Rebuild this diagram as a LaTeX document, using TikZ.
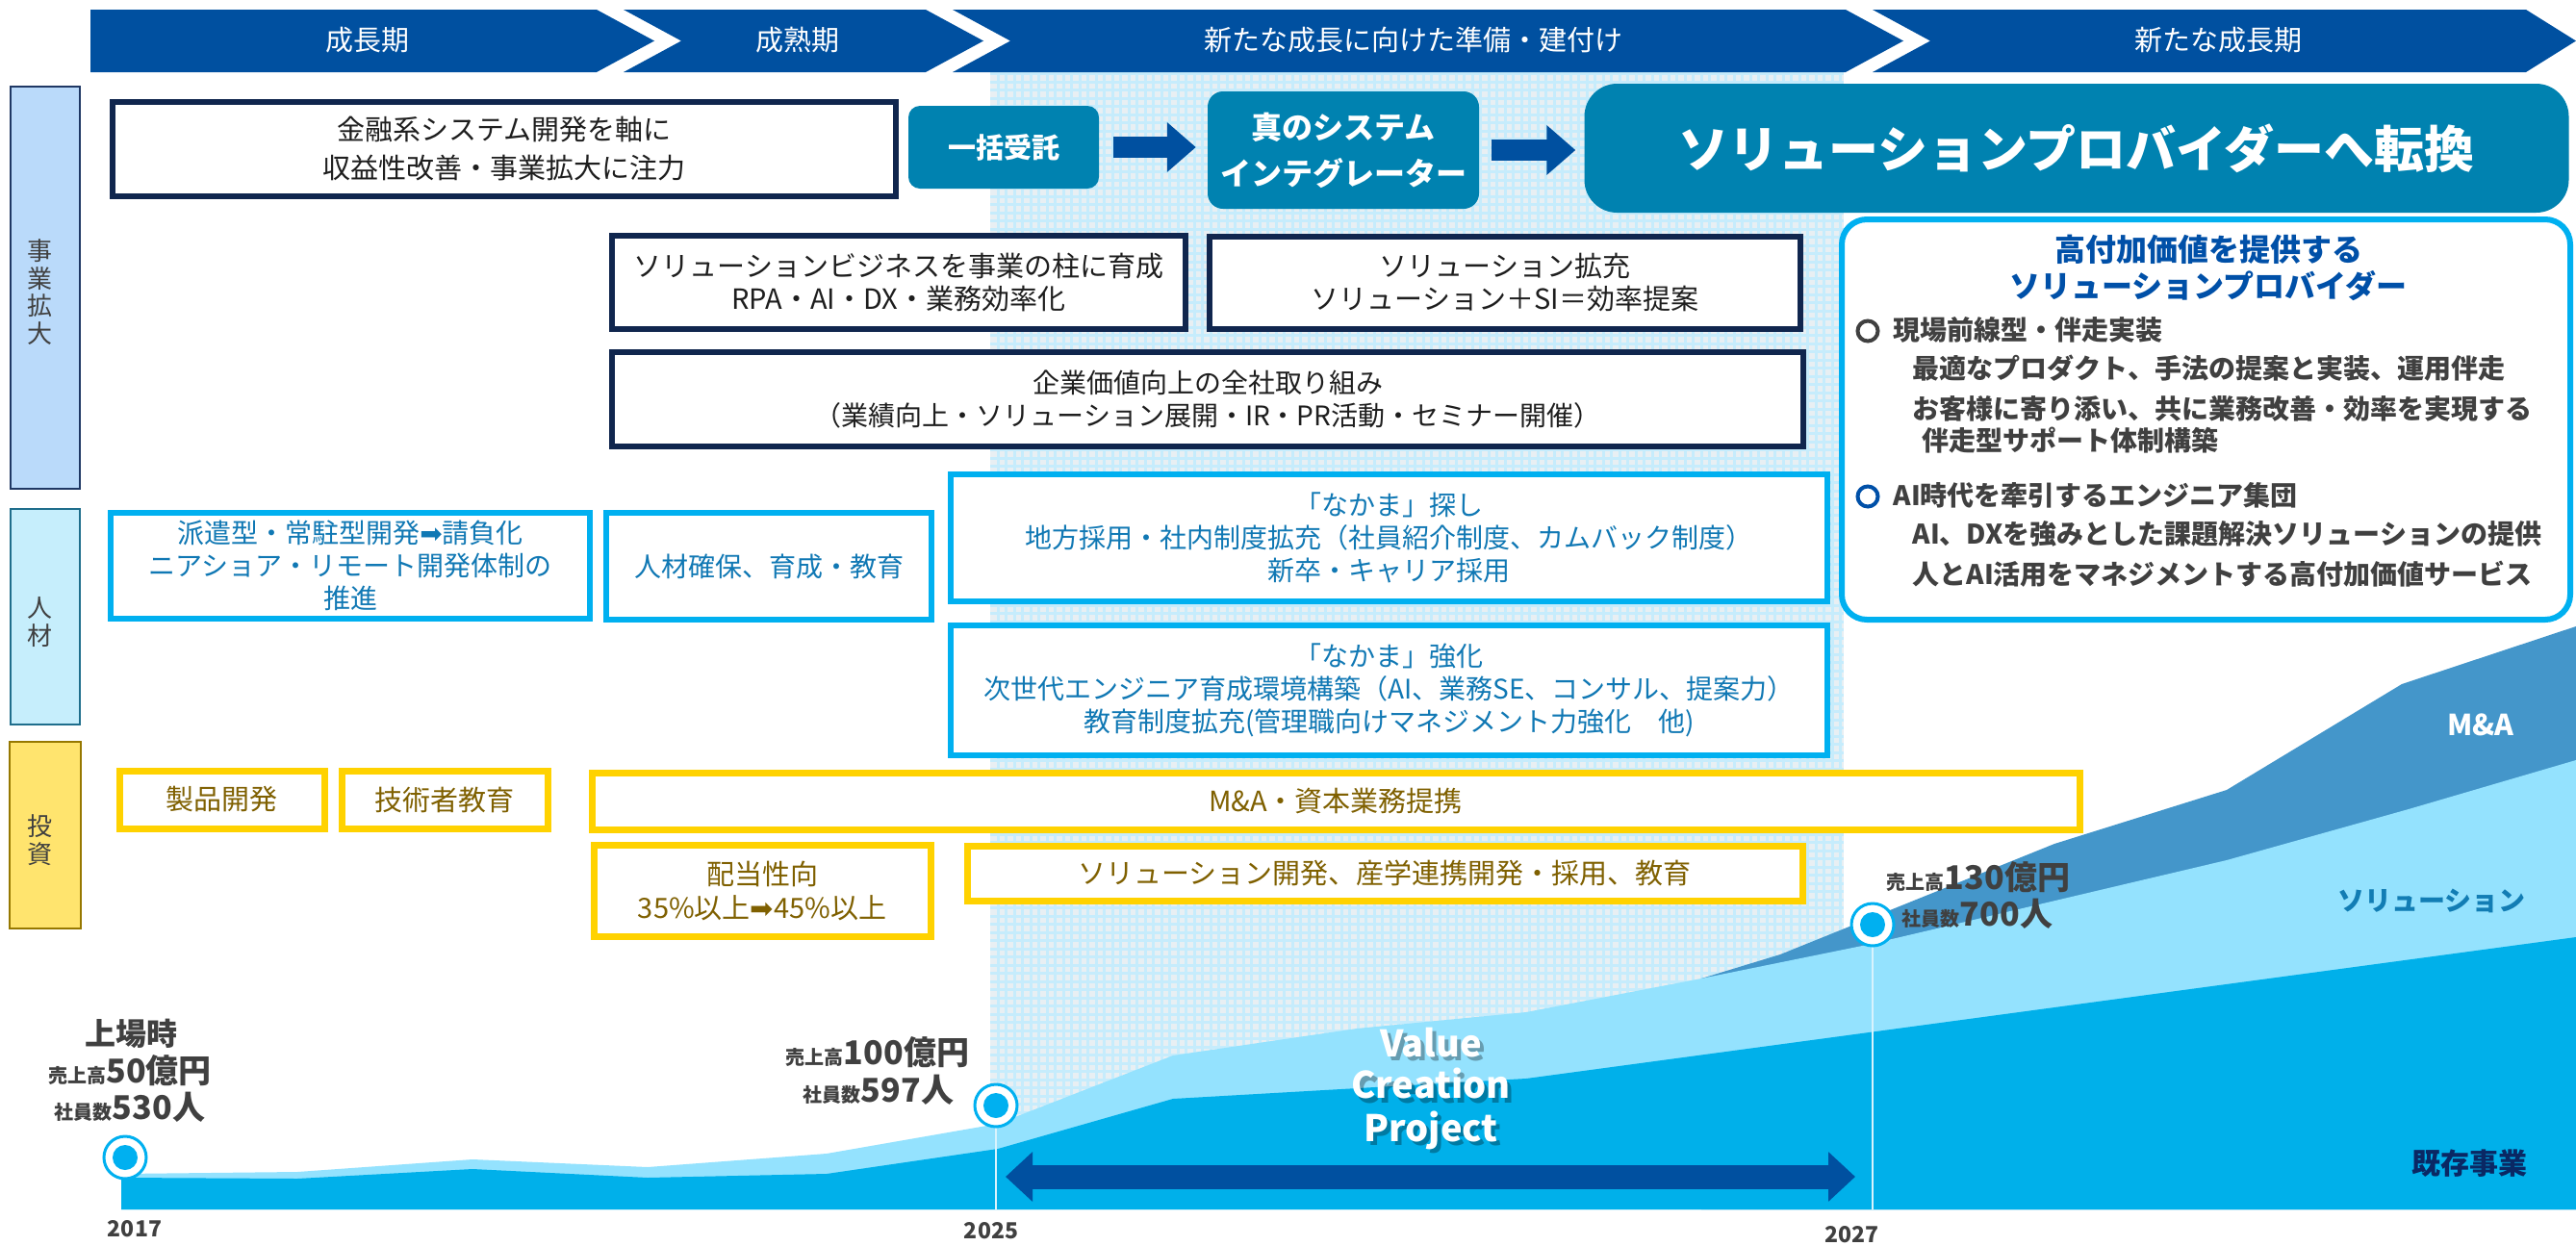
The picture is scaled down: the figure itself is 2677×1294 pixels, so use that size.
\documentclass[tikz,border=0pt]{standalone}
\usepackage{fontspec}
\setmainfont{Noto Sans CJK JP}
\newfontfamily\dejavu{DejaVu Sans}
\usetikzlibrary{arrows.meta}
\newcommand\fs[2]{\fontsize{#1}{#2}\selectfont}
\newcommand\rarr{{\dejavu\char"27A1}}
\definecolor{banner}{RGB}{0,80,160}
\definecolor{navyb}{RGB}{16,38,78}
\definecolor{tealb}{RGB}{0,130,176}
\definecolor{cyanb}{RGB}{0,176,240}
\definecolor{yelb}{RGB}{255,210,0}
\definecolor{olivet}{RGB}{127,96,0}
\definecolor{cyant}{RGB}{16,120,180}
\definecolor{txtdark}{RGB}{30,30,30}
\definecolor{txtgray}{RGB}{64,64,64}
\definecolor{titleblue}{RGB}{0,80,168}
\definecolor{cAfill}{RGB}{186,218,250}
\definecolor{cAdraw}{RGB}{31,56,100}
\definecolor{cBfill}{RGB}{198,238,252}
\definecolor{cBdraw}{RGB}{31,110,140}
\definecolor{cCfill}{RGB}{255,228,110}
\definecolor{cCdraw}{RGB}{150,120,0}
\definecolor{basecol}{RGB}{0,176,234}
\definecolor{lightcol}{RGB}{148,226,254}
\definecolor{macol}{RGB}{68,150,202}
\definecolor{gridbg}{RGB}{232,239,243}
\definecolor{gridln}{RGB}{198,236,252}
\definecolor{soltxt}{RGB}{18,125,180}
\definecolor{kizon}{RGB}{10,40,100}
\tikzset{
  navybox/.style={draw=navyb, line width=6pt, fill=white, inner sep=0pt, align=center, text=txtdark, font={\fs{29}{34}}},
  tealbox/.style={fill=tealb, inner sep=0pt, align=center, text=white},
  cyanbox/.style={draw=cyanb, line width=6pt, fill=white, inner sep=0pt, align=center, text=cyant, font={\fs{28}{34}}},
  yelbox/.style={draw=yelb, line width=7pt, fill=white, inner sep=0pt, align=center, text=olivet, font={\fs{29}{35}}},
  colbox/.style={line width=2pt, inner sep=0pt},
  coltext/.style={align=center, text=txtgray, font={\fs{26}{28.5}}},
  bantext/.style={text=white, font={\fs{29}{29}}},
  blockarrow/.style={draw=banner, line width=22pt, -{Triangle[length=30pt,width=50pt]}},
  dblarrow/.style={draw=banner, line width=25pt, {Triangle[length=28pt,width=50pt]}-{Triangle[length=28pt,width=50pt]}},
  marker/.style={circle, draw=cyanb, fill=white, line width=3pt, minimum size=44pt, inner sep=0pt,
    path picture={\fill[cyanb] (path picture bounding box.center) circle[radius=13pt];}},
  vline/.style={draw=white!85!cyanb, line width=2pt},
  kpitext/.style={text=txtgray, font={\bfseries}},
  yeartext/.style={text=txtgray, font={\fs{23}{23}\bfseries}},
  itemhead/.style={anchor=west, text=txtgray, font={\fs{28}{28}\bfseries}},
  itembody/.style={anchor=west, text=txtgray, font={\fs{28}{28}\bfseries}},
  bullet/.style={circle, line width=4pt, minimum size=21pt, inner sep=0pt},
  vcp/.style={align=center, font={\fs{38}{44}\bfseries}}
}
\newcommand\kpi[3]{{\fs{20}{20}#1}{\fs{34}{34}#2}}
\begin{document}
\begin{tikzpicture}[x=1pt,y=-1pt]
\useasboundingbox (0,0) rectangle (2677,1294);
\fill[white] (0,0) rectangle (2677,1294);
% grid background
\fill[gridbg] (1029,75) rectangle (1916,1257);
\draw[gridln, line width=3pt, step=8.5pt] (1029,75) grid (1916,1257);
% chart layers
\fill[macol] (1768,1017) -- (1850,992) -- (2135,877) -- (2314,821) -- (2496,711) -- (2677,651) -- (2677,1257) -- (1768,1257) -- cycle;
\fill[lightcol] (126,1257) -- (126,1220) -- (309,1218) -- (491,1205) -- (673,1213) -- (859,1199) -- (1037,1168) -- (1219,1097) -- (1410,1069) -- (1586,1052) -- (1768,1017) -- (1945,981) -- (2314,894) -- (2503,841) -- (2677,790) -- (2677,1257) -- cycle;
\fill[basecol] (126,1257) -- (126,1224) -- (309,1225) -- (491,1215) -- (673,1224) -- (859,1220) -- (1037,1194) -- (1219,1142) -- (1586,1121) -- (2677,974) -- (2677,1257) -- cycle;
% vertical lines and markers
\coordinate (c25) at (1035,1149);
\coordinate (b25) at (1035,1257);
\coordinate (c27) at (1946,961);
\coordinate (b27) at (1946,1257);
\draw[vline] (c25) -- (b25);
\draw[vline] (c27) -- (b27);
\coordinate (vl) at (1045,1223);
\coordinate (vr) at (1928,1223);
\draw[dblarrow] (vl) -- (vr);
\node[marker] (m17) at (130,1203) {};
\node[marker] (m25) at (c25) {};
\node[marker] (m27) at (c27) {};
% chart texts
\node[vcp, text=black, opacity=0.3] (vcpshadow) at (1491,1135) {Value\\Creation\\Project};
\node[vcp, text=white] (vcptext) at (1487,1131) {Value\\Creation\\Project};
\node[text=white, font={\fs{30}{30}\bfseries}] (lblma) at (2578,753) {M\&A};
\node[text=soltxt, font={\fs{28}{28}\bfseries}] (lblsol) at (2527,936) {ソリューション};
\node[text=kizon, font={\fs{30}{30}\bfseries}] (lblkizon) at (2566,1209) {既存事業};
\node[yeartext] (y17) at (140,1277) {2017};
\node[yeartext] (y25) at (1030,1279) {2025};
\node[yeartext] (y27) at (1924,1283) {2027};
\node[kpitext, font={\fs{32}{32}\bfseries}] (jojo) at (136,1074) {上場時};
\node[kpitext] (k17a) at (135,1113) {\kpi{売上高}{50億円}{}};
\node[kpitext] (k17b) at (135,1151) {\kpi{社員数}{530人}{}};
\node[kpitext] (k25a) at (912,1094) {\kpi{売上高}{100億円}{}};
\node[kpitext] (k25b) at (913,1133) {\kpi{社員数}{597人}{}};
\node[kpitext] (k27a) at (2056,912) {\kpi{売上高}{130億円}{}};
\node[kpitext] (k27b) at (2055,950) {\kpi{社員数}{700人}{}};
% banner
\fill[banner] (94,10) -- (620,10) -- (680,42.5) -- (620,75) -- (94,75) -- cycle;
\fill[banner] (648,10) -- (962,10) -- (1022,42.5) -- (962,75) -- (648,75) -- (708,42.5) -- cycle;
\fill[banner] (990,10) -- (1918,10) -- (1978,42.5) -- (1918,75) -- (990,75) -- (1050,42.5) -- cycle;
\fill[banner] (1946,10) -- (2625,10) -- (2677,42.5) -- (2625,75) -- (1946,75) -- (2006,42.5) -- cycle;
\node[bantext] (ban1) at (382,42) {成長期};
\node[bantext] (ban2) at (829,42) {成熟期};
\node[bantext] (ban3) at (1469,42) {新たな成長に向けた準備・建付け};
\node[bantext] (ban4) at (2305,42) {新たな成長期};
% category columns
\node[colbox, fill=cAfill, draw=cAdraw, minimum width=72pt, minimum height=418pt] (colA) at (47,299) {};
\node[coltext] (colAt) at (41,303.5) {事\\業\\拡\\大};
\node[colbox, fill=cBfill, draw=cBdraw, minimum width=72pt, minimum height=224pt] (colB) at (47,640.5) {};
\node[coltext] (colBt) at (41,646.5) {人\\材};
\node[colbox, fill=cCfill, draw=cCdraw, minimum width=74pt, minimum height=194pt] (colC) at (47,868) {};
\node[coltext] (colCt) at (41,873) {投\\資};
% top row
\node[navybox, minimum width=814pt, minimum height=98pt, font={\fs{29}{40}}] (kin) at (524,155) {金融系システム開発を軸に\\収益性改善・事業拡大に注力};
\node[tealbox, minimum width=198pt, minimum height=86pt, rounded corners=12pt, font={\fs{29}{29}\bfseries}] (ikk) at (1043,153) {一括受託};
\node[tealbox, minimum width=282pt, minimum height=122pt, rounded corners=16pt, font={\fs{32}{48}\bfseries}] (shin) at (1396,156) {真のシステム\\インテグレーター};
\node[tealbox, minimum width=1023pt, minimum height=134pt, rounded corners=34pt, font={\fs{52}{52}\bfseries}] (big) at (2158,154) {ソリューションプロバイダーへ転換};
\draw[blockarrow, shorten <=15pt, shorten >=12pt] (ikk.east) -- (ikk.east -| shin.west);
\draw[blockarrow, shorten <=13pt, shorten >=9pt] (shin.east) -- (shin.east -| big.west);
% navy boxes
\node[navybox, minimum width=596pt, minimum height=97pt] (sol1) at (934,293.5) {ソリューションビジネスを事業の柱に育成\\RPA・AI・DX・業務効率化};
\node[navybox, minimum width=614pt, minimum height=96pt] (sol2) at (1564,294) {ソリューション拡充\\ソリューション＋SI＝効率提案};
\node[navybox, minimum width=1238pt, minimum height=98pt, font={\fs{28}{34}}] (kigyo) at (1255,415) {企業価値向上の全社取り組み\\（業績向上・ソリューション展開・IR・PR活動・セミナー開催）};
% cyan boxes
\node[cyanbox, minimum width=498pt, minimum height=110pt] (haken) at (364,588) {派遣型・常駐型開発\rarr 請負化\\ニアショア・リモート開発体制の\\推進};
\node[cyanbox, minimum width=338pt, minimum height=111pt] (jinzai) at (799,588.5) {人材確保、育成・教育};
\node[cyanbox, minimum width=911pt, minimum height=132pt] (naka1) at (1443.5,559) {「なかま」探し\\地方採用・社内制度拡充（社員紹介制度、カムバック制度）\\新卒・キャリア採用};
\node[cyanbox, minimum width=911pt, minimum height=135pt] (naka2) at (1443.5,717.5) {「なかま」強化\\次世代エンジニア育成環境構築（AI、業務SE、コンサル、提案力）\\教育制度拡充(管理職向けマネジメント力強化　他)};
% high value box
\node[draw=cyanb, line width=6pt, fill=white, rounded corners=26pt, minimum width=757pt, minimum height=416pt, inner sep=0pt] (kodo) at (2292.5,436) {};
\node[text=titleblue, align=center, font={\fs{32}{38}\bfseries}] (kodot) at (2295,278) {高付加価値を提供する\\ソリューションプロバイダー};
\node[bullet, draw=txtgray] (o1) at (1941,344) {};
\node[itemhead] (h1) at (1964,343) {現場前線型・伴走実装};
\node[itembody] (b1) at (1984,383) {最適なプロダクト、手法の提案と実装、運用伴走};
\node[itembody] (b2) at (1984,425) {お客様に寄り添い、共に業務改善・効率を実現する};
\node[itembody] (b3) at (1994,458) {伴走型サポート体制構築};
\node[bullet, draw=titleblue] (o2) at (1941,516) {};
\node[itemhead] (h2) at (1964,515) {AI時代を牽引するエンジニア集団};
\node[itembody] (b4) at (1984,555) {AI、DXを強みとした課題解決ソリューションの提供};
\node[itembody] (b5) at (1984,597) {人とAI活用をマネジメントする高付加価値サービス};
% yellow boxes
\node[yelbox, minimum width=213pt, minimum height=60pt] (seihin) at (230.5,831) {製品開発};
\node[yelbox, minimum width=214pt, minimum height=60pt] (gijutsu) at (462,831) {技術者教育};
\node[yelbox, minimum width=1546pt, minimum height=59pt] (mabox) at (1388,832.5) {M\&A・資本業務提携};
\node[yelbox, minimum width=350pt, minimum height=95pt] (haito) at (792,925.5) {配当性向\\35\%以上\rarr 45\%以上};
\node[yelbox, minimum width=868pt, minimum height=57pt] (soldev) at (1439,907.5) {ソリューション開発、産学連携開発・採用、教育};
\end{tikzpicture}
\end{document}
